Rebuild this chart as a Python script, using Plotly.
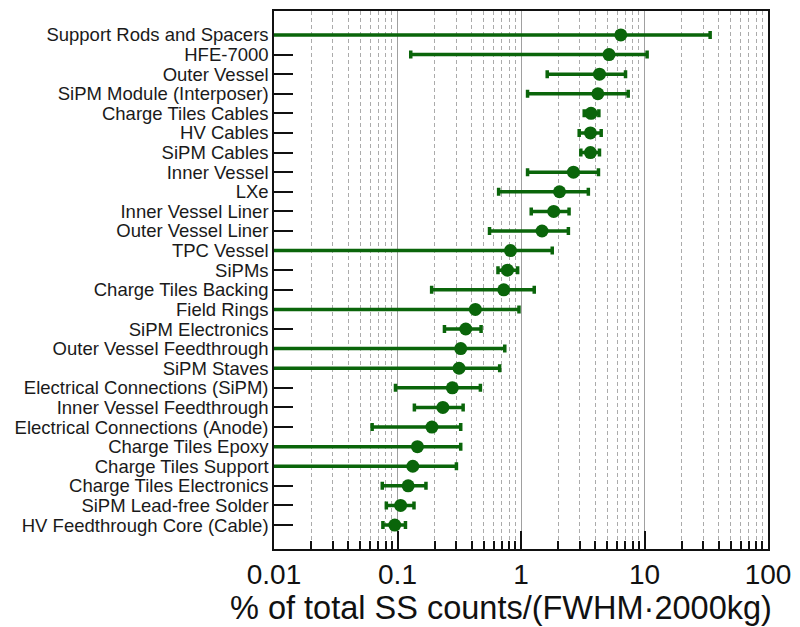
import plotly.graph_objects as go

components = [
    "Support Rods and Spacers", "HFE-7000", "Outer Vessel", "SiPM Module (Interposer)",
    "Charge Tiles Cables", "HV Cables", "SiPM Cables", "Inner Vessel", "LXe",
    "Inner Vessel Liner", "Outer Vessel Liner", "TPC Vessel", "SiPMs",
    "Charge Tiles Backing", "Field Rings", "SiPM Electronics", "Outer Vessel Feedthrough",
    "SiPM Staves", "Electrical Connections (SiPM)", "Inner Vessel Feedthrough",
    "Electrical Connections (Anode)", "Charge Tiles Epoxy", "Charge Tiles Support",
    "Charge Tiles Electronics", "SiPM Lead-free Solder", "HV Feedthrough Core (Cable)",
]
central = [6.43, 5.16, 4.32, 4.19, 3.69, 3.65, 3.65, 2.66, 2.05, 1.84, 1.48, 0.822, 0.777,
           0.725, 0.427, 0.357, 0.325, 0.315, 0.278, 0.233, 0.190, 0.145, 0.133, 0.122,
           0.106, 0.095]
# None = no lower bound (upper limit only)
lower = [None, 0.128, 1.63, 1.13, 3.25, 2.96, 3.05, 1.13, 0.659, 1.21, 0.556, None, 0.651,
         0.189, None, 0.240, None, None, 0.0963, 0.137, 0.0623, None, None, 0.0753,
         0.0812, 0.0762]
upper = [34.0, 10.5, 7.02, 7.38, 4.27, 4.46, 4.32, 4.24, 3.51, 2.45, 2.42, 1.79, 0.939,
         1.28, 0.963, 0.475, 0.739, 0.672, 0.469, 0.340, 0.325, 0.325, 0.300, 0.170,
         0.136, 0.116]
x_tick_vals = [0.01, 0.1, 1, 10, 100]
x_tick_text = ["0.01", "0.1", "1", "10", "100"]
x_title = "% of total SS counts/(FWHM·2000kg)"

GREEN = "#0a650a"
err_plus = [u - c for u, c in zip(upper, central)]
err_minus = [(c - l) if l is not None else c * (1 - 1e-7) for l, c in zip(lower, central)]

fig = go.Figure()
fig.add_trace(go.Scatter(
    x=central, y=components, mode="markers",
    marker=dict(symbol="circle", size=13, color=GREEN),
    error_x=dict(type="data", symmetric=False, array=err_plus, arrayminus=err_minus,
                 color=GREEN, thickness=3.5, width=4),
    showlegend=False,
))

n = len(components)
pad = 1.22
font_fam = "Liberation Sans, Arial, Helvetica, sans-serif"
fig.update_layout(
    width=800, height=627,
    margin=dict(l=274, r=30, t=9, b=78),
    paper_bgcolor="white", plot_bgcolor="white",
    font=dict(family=font_fam, color="#1a1a1a"),
    xaxis=dict(
        type="log", range=[-2, 2],
        tickmode="array", tickvals=x_tick_vals, ticktext=x_tick_text,
        ticks="inside", ticklen=18, tickwidth=1.5, tickcolor="#111",
        tickfont=dict(size=28, color="#111"),
        showgrid=True, gridcolor="#a0a0a0", gridwidth=1,
        minor=dict(tickmode="linear", dtick="D1", ticks="inside", ticklen=8,
                   tickwidth=1.5, tickcolor="#111",
                   showgrid=True, gridcolor="#ababab", gridwidth=1, griddash="4px,3px"),
        showline=True, linecolor="#111", linewidth=1.5, mirror=True,
        zeroline=False, layer="below traces",
    ),
    yaxis=dict(
        type="category", categoryorder="array", categoryarray=components,
        range=[n - 1 + pad, -pad],
        tickmode="array", tickvals=components, ticktext=components,
        ticks="inside", ticklen=19, tickwidth=1.5, tickcolor="#111",
        tickfont=dict(size=18.5, color="#1a1a1a"),
        showgrid=False,
        showline=True, linecolor="#111", linewidth=1.5, mirror=True,
        zeroline=False, layer="below traces",
    ),
)
fig.add_annotation(
    text=x_title, xref="paper", yref="paper",
    x=1.013, y=0, xanchor="right", yanchor="middle", yshift=-59,
    showarrow=False, font=dict(size=32.5, color="#111", family=font_fam),
)
fig.write_html("out.html")
